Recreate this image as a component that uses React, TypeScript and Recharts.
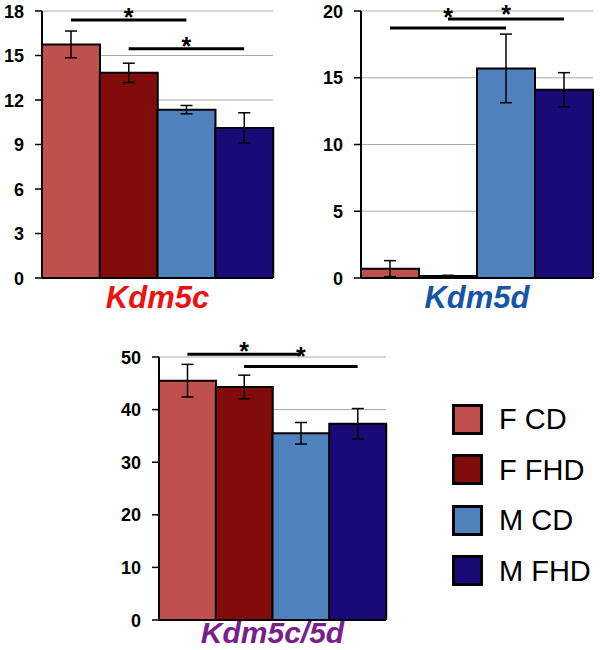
import React from "react";
import {
  BarChart,
  Bar,
  Cell,
  XAxis,
  YAxis,
  CartesianGrid,
  ErrorBar,
  ReferenceLine,
} from "recharts";

const groups = ["F CD", "F FHD", "M CD", "M FHD"];
const colors = ["#c0504d", "#800d0b", "#4f81bd", "#1a0a78"];

const kdm5cMean = [15.75, 13.83, 11.35, 10.12];
const kdm5cErr = [0.9, 0.65, 0.28, 1.02];
const kdm5dMean = [0.7, 0.15, 15.7, 14.1];
const kdm5dErr = [0.6, 0.05, 2.57, 1.28];
const kdm5cdMean = [45.5, 44.3, 35.5, 37.3];
const kdm5cdErr = [3.1, 2.25, 2.05, 2.9];

const kdm5cTicks = [0, 3, 6, 9, 12, 15, 18];
const kdm5dTicks = [0, 5, 10, 15, 20];
const kdm5cdTicks = [0, 10, 20, 30, 40, 50];

// significance brackets: [from, to, height]
const kdm5cSig = [
  ["F CD", "M CD", 17.4],
  ["F FHD", "M FHD", 15.45],
];
const kdm5dSig = [
  ["F CD", "M CD", 18.73],
  ["F FHD", "M FHD", 19.4],
];
const kdm5cdSig = [
  ["F CD", "M CD", 50.5],
  ["F FHD", "M FHD", 48.2],
];

const font = "'Liberation Sans', Arial, sans-serif";

const rows = (mean: number[], err: number[]) =>
  groups.map((g, i) => ({ group: g, value: mean[i], err: err[i] }));

const YTick = (props: any) => {
  const { x, y, payload } = props;
  return (
    <text
      x={x}
      y={y}
      dy={6.5}
      textAnchor="end"
      fill="#000"
      fontSize={18}
      fontWeight="bold"
      fontFamily={font}
    >
      {payload.value}
    </text>
  );
};

type PanelProps = {
  title: string;
  titleColor: string;
  titleSize: number;
  mean: number[];
  err: number[];
  ticks: number[];
  sig: (string | number)[][];
  starOffsets: number[];
  width: number;
  height: number;
  margin: { top: number; right: number; bottom: number; left: number };
  yWidth: number;
  xHeight: number;
  titleOffset: number;
  style: React.CSSProperties;
};

function Panel(p: PanelProps) {
  return (
    <div style={{ position: "absolute", ...p.style }}>
      <BarChart
        width={p.width}
        height={p.height}
        data={rows(p.mean, p.err)}
        margin={p.margin}
        barCategoryGap={0}
      >
        <CartesianGrid vertical={false} stroke="#a8a8a8" strokeWidth={1} />
        <XAxis
          dataKey="group"
          tick={false}
          tickLine={false}
          axisLine={{ stroke: "#000", strokeWidth: 2 }}
          height={p.xHeight}
          label={{
            value: p.title,
            position: "insideBottom",
            offset: p.titleOffset,
            fill: p.titleColor,
            fontSize: p.titleSize,
            fontWeight: "bold",
            fontStyle: "italic",
            fontFamily: font,
          }}
        />
        <YAxis
          width={p.yWidth}
          domain={[p.ticks[0], p.ticks[p.ticks.length - 1]]}
          ticks={p.ticks}
          interval={0}
          allowDataOverflow
          tickSize={7}
          tickMargin={11}
          axisLine={{ stroke: "#000", strokeWidth: 2 }}
          tickLine={{ stroke: "#000", strokeWidth: 1.5 }}
          tick={<YTick />}
        />
        <Bar dataKey="value" stroke="#000" strokeWidth={2} isAnimationActive={false}>
          {groups.map((g, i) => (
            <Cell key={g} fill={colors[i]} />
          ))}
          <ErrorBar
            dataKey="err"
            direction="y"
            width={6}
            stroke="#000"
            strokeWidth={1.5}
            isAnimationActive={false}
          />
        </Bar>
        {p.sig.map(([from, to, y], i) => (
          <ReferenceLine
            key={i}
            segment={[
              { x: from, y },
              { x: to, y },
            ]}
            stroke="#000"
            strokeWidth={3}
            ifOverflow="visible"
            label={{
              value: "*",
              position: "top",
              offset: p.starOffsets[i],
              fill: "#000",
              fontSize: 25,
              fontWeight: "bold",
              fontFamily: font,
            }}
          />
        ))}
      </BarChart>
    </div>
  );
}

function LegendBox() {
  return (
    <div style={{ position: "absolute", left: 452, top: 404, fontFamily: font }}>
      {groups.map((g, i) => (
        <div
          key={g}
          style={{ display: "flex", alignItems: "center", height: 30, marginBottom: 20.5 }}
        >
          <div
            style={{
              width: 31,
              height: 31,
              boxSizing: "border-box",
              border: "3px solid #000",
              background: colors[i],
            }}
          />
          <span style={{ marginLeft: 16, fontSize: 29, color: "#000", lineHeight: "30px" }}>
            {g}
          </span>
        </div>
      ))}
    </div>
  );
}

export default function App() {
  return (
    <div
      style={{
        position: "absolute",
        left: 0,
        top: 0,
        width: 600,
        height: 650,
        background: "#fff",
        overflow: "hidden",
      }}
    >
      <Panel
        title="Kdm5c"
        titleColor="#ee1111"
        titleSize={31}
        mean={kdm5cMean}
        err={kdm5cErr}
        ticks={kdm5cTicks}
        sig={kdm5cSig}
        starOffsets={[-6, -6.5]}
        width={290}
        height={320}
        margin={{ top: 11, right: 17, bottom: 0, left: 0 }}
        yWidth={42}
        xHeight={42}
        titleOffset={12}
        style={{ left: 0, top: 0 }}
      />
      <Panel
        title="Kdm5d"
        titleColor="#1655a6"
        titleSize={31}
        mean={kdm5dMean}
        err={kdm5dErr}
        ticks={kdm5dTicks}
        sig={kdm5dSig}
        starOffsets={[2, -4]}
        width={300}
        height={320}
        margin={{ top: 11, right: 7, bottom: 0, left: 0 }}
        yWidth={61}
        xHeight={42}
        titleOffset={12}
        style={{ left: 300, top: 0 }}
      />
      <Panel
        title="Kdm5c/5d"
        titleColor="#7a1e8c"
        titleSize={30}
        mean={kdm5cdMean}
        err={kdm5cdErr}
        ticks={kdm5cdTicks}
        sig={kdm5cdSig}
        starOffsets={[-5.5, 1.5]}
        width={300}
        height={320}
        margin={{ top: 27, right: 14, bottom: 0, left: 0 }}
        yWidth={59}
        xHeight={30}
        titleOffset={7}
        style={{ left: 100, top: 330 }}
      />
      <LegendBox />
    </div>
  );
}
